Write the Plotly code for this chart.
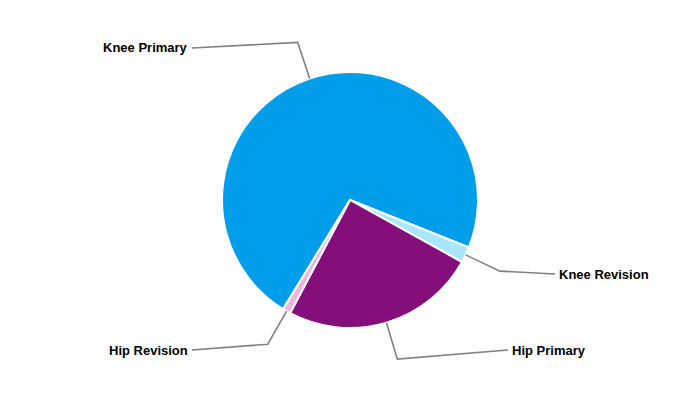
import math
import plotly.graph_objects as go

# ---- data ----
labels = ["Knee Primary", "Knee Revision", "Hip Primary", "Hip Revision"]
values = [72.3, 2.0, 24.7, 1.0]
colors = ["#009EEA", "#A8E6FB", "#850F7A", "#F2B3DE"]

# ---- layout config (screen pixels in a 700x400 window) ----
OFF = 8                 # page body margin
W, H = 700 - 2 * OFF, 400 - 2 * OFF
CX, CY, R = 350, 200, 128
ROTATION = 211.5        # start of first slice, degrees clockwise from 12 o'clock
ELBOW = 38              # radial length of the first leader segment
label_ends = [(192, 48, "right"), (555, 274, "left"), (508, 350, "left"), (192, 350, "right")]

def px(x, y):
    return (x - OFF) / W, 1 - (y - OFF) / H

fig = go.Figure()
fig.add_trace(go.Pie(
    labels=labels, values=values, sort=False, direction="clockwise",
    rotation=ROTATION, textinfo="none", hoverinfo="label+percent",
    marker=dict(colors=colors, line=dict(color="white", width=2)),
    domain=dict(x=[0, 1], y=[px(0, CY + R)[1], px(0, CY - R)[1]]),
    showlegend=False,
))

total = sum(values)
ang = ROTATION
shapes, annotations = [], []
for lab, v, (ex, ey, side) in zip(labels, values, label_ends):
    span = 360 * v / total
    mid = math.radians(ang + span / 2)
    ang += span
    sx, sy = CX + R * math.sin(mid), CY - R * math.cos(mid)
    kx, ky = CX + (R + ELBOW) * math.sin(mid), CY - (R + ELBOW) * math.cos(mid)
    pts = [px(sx, sy), px(kx, ky), px(ex, ey)]
    path = "M {} {} L {} {} L {} {}".format(*[c for p in pts for c in p])
    shapes.append(dict(type="path", xref="paper", yref="paper", path=path,
                       line=dict(color="#808080", width=1.6)))
    tx = ex - 2 if side == "right" else ex + 2
    ax, ay = px(tx, ey)
    annotations.append(dict(x=ax, y=ay, xref="paper", yref="paper", text="<b>%s</b>" % lab,
                            showarrow=False, xanchor=side, yanchor="middle",
                            font=dict(family="Arial, Liberation Sans, sans-serif", size=13, color="black")))

fig.update_layout(
    width=W, height=H, margin=dict(l=0, r=0, t=0, b=0),
    paper_bgcolor="white", plot_bgcolor="white",
    shapes=shapes, annotations=annotations,
)
fig.write_html("out.html")
